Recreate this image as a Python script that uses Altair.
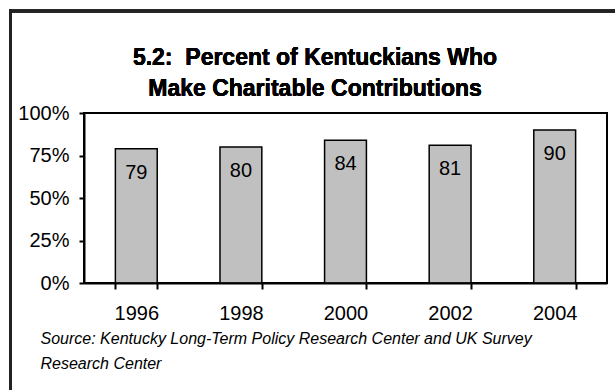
import altair as alt
import pandas as pd

years = ["1996", "1998", "2000", "2002", "2004"]
values = [79, 80, 84, 81, 90]
y_ticks = [0, 25, 50, 75, 100]
title_lines = ["5.2:\u00a0 Percent of Kentuckians Who", "Make Charitable Contributions"]
source_lines = ["Source: Kentucky Long-Term Policy Research Center and UK Survey", "Research Center"]

df = pd.DataFrame({"year": years, "value": values})
FONT = "Liberation Sans"

x_enc = alt.X(
    "year:N",
    sort=years,
    scale=alt.Scale(paddingInner=0.6, paddingOuter=0.3),
    axis=alt.Axis(
        title=source_lines,
        titleFont=FONT, titleFontSize=16, titleFontStyle="italic", titleFontWeight="normal",
        titleColor="black", titleAnchor="start", titleAlign="left", titleBaseline="alphabetic",
        titleX=-44, titleY=60, titleLineHeight=25,
        labelAngle=0, labelFont=FONT, labelFontSize=20, labelColor="black", labelPadding=14,
        tickBand="extent", tickSize=6, tickColor="black", tickWidth=2,
        domainColor="black", domainWidth=2, zindex=1,
    ),
)
y_enc = alt.Y(
    "value:Q",
    scale=alt.Scale(domain=[0, 100], nice=False),
    axis=alt.Axis(
        title=None, values=y_ticks, labelExpr="datum.value + '%'",
        labelFont=FONT, labelFontSize=20, labelColor="black", labelPadding=10,
        tickSize=5, tickColor="black", tickWidth=2, domainColor="black", domainWidth=2,
        grid=False, zindex=1,
    ),
)

# outer frame: only the left and top edges fall inside the picture
frame_left = alt.Chart(df).mark_rule(stroke="#222222", strokeWidth=3).encode(
    x=alt.value(-73.5), y=alt.value(-103.5), y2=alt.value(400)
)
frame_top = alt.Chart(df).mark_rule(stroke="#222222", strokeWidth=3).encode(
    x=alt.value(-75), x2=alt.value(600), y=alt.value(-102)
)

title1 = alt.Chart(df).mark_text(
    font=FONT, fontSize=23, fontWeight="bold", color="black", align="center", baseline="alphabetic"
).encode(x=alt.value(231), y=alt.value(-48), text=alt.value(title_lines[0]))
title2 = alt.Chart(df).mark_text(
    font=FONT, fontSize=23, fontWeight="bold", color="black", align="center", baseline="alphabetic"
).encode(x=alt.value(231), y=alt.value(-17), text=alt.value(title_lines[1]))

bars = alt.Chart(df).mark_bar(color="#c0c0c0", stroke="black", strokeWidth=1.5).encode(
    x=x_enc, y=y_enc
)
labels = alt.Chart(df).mark_text(
    font=FONT, fontSize=20, color="black", baseline="middle", dy=24
).encode(x=alt.X("year:N", sort=years), y="value:Q", text="value:Q")

chart = (
    alt.layer(frame_left, frame_top, title1, title2, bars, labels)
    .properties(
        width=523,
        height=170,
        autosize=alt.AutoSizeParams(type="none"),
        padding={"left": 84, "top": 113, "right": 8, "bottom": 107},
        background="white",
    )
    .configure_view(stroke="black", strokeWidth=2)
)

chart.save("out.html", embed_options={"renderer": "svg", "actions": False})
